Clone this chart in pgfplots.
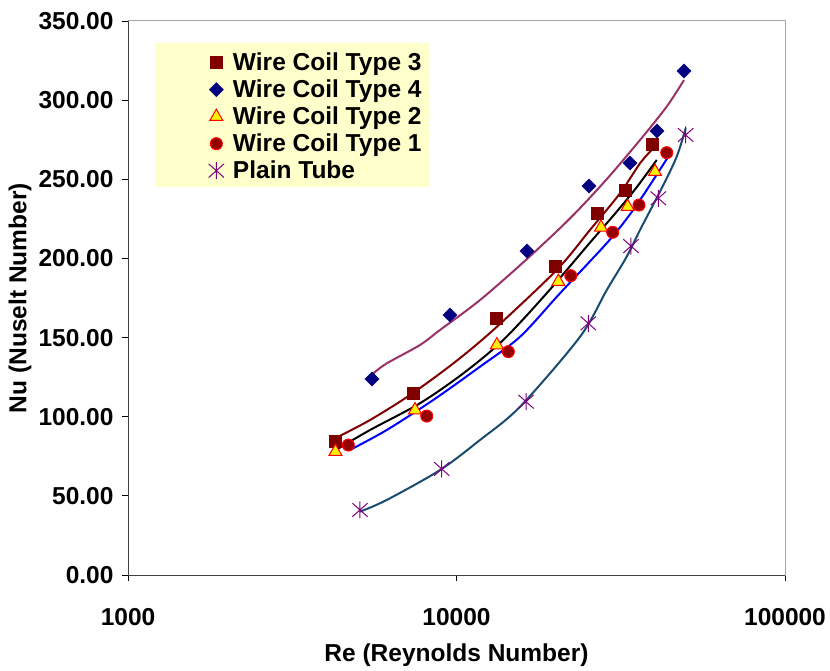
\documentclass[border=0pt]{standalone}
\usepackage{fontspec}
\setmainfont{Liberation Sans}
\usepackage{pgfplots}
\pgfplotsset{compat=1.18}
\definecolor{cthree}{RGB}{128,0,0}
\definecolor{navy}{RGB}{0,0,128}
\definecolor{plum}{RGB}{153,51,102}
\definecolor{teal2}{RGB}{25,75,110}
\definecolor{purp}{RGB}{128,0,128}
\definecolor{legbg}{RGB}{255,255,204}
\definecolor{cone}{RGB}{150,0,0}
\newcommand\chfont{\fontsize{24.5bp}{29bp}\selectfont\bfseries}
\pgfdeclareplotmark{xstar}{%
  \pgfpathmoveto{\pgfqpoint{0pt}{\pgfplotmarksize}}%
  \pgfpathlineto{\pgfqpoint{0pt}{-\pgfplotmarksize}}%
  \pgfpathmoveto{\pgfqpoint{-0.9\pgfplotmarksize}{0.8\pgfplotmarksize}}%
  \pgfpathlineto{\pgfqpoint{0.9\pgfplotmarksize}{-0.8\pgfplotmarksize}}%
  \pgfpathmoveto{\pgfqpoint{-0.9\pgfplotmarksize}{-0.8\pgfplotmarksize}}%
  \pgfpathlineto{\pgfqpoint{0.9\pgfplotmarksize}{0.8\pgfplotmarksize}}%
  \pgfusepathqstroke}
\begin{document}
\begin{tikzpicture}
\path[use as bounding box] (-128bp,-96bp) rectangle (702bp,575bp);
\begin{axis}[
  at={(0,0)}, anchor=south west,
  scale only axis, width=657bp, height=554bp,
  xmode=log, xmin=1000, xmax=100000, ymin=0, ymax=350,
  xtick={1000,10000,100000}, xticklabels={1000,10000,100000},
  ytick={0,50,100,150,200,250,300,350},
  yticklabel={\pgfmathprintnumber[fixed,fixed zerofill,precision=2,assume math mode=true]{\tick}},
  xminorticks=false, yminorticks=false,
  xtick pos=bottom, ytick pos=left,
  tick align=outside, major tick length=6bp,
  tick style={black, line width=0.8bp},
  axis line style={draw=gray!70, line width=1bp},
  tick label style={font=\chfont},
  xticklabel style={yshift=-24bp},
  yticklabel style={xshift=-5bp},
  every axis x label/.style={at={(rel axis cs:0.5,-0.145)}, anchor=center},
  every axis y label/.style={at={(rel axis cs:-0.1644,0.5)}, rotate=90, anchor=center},
  label style={font=\chfont},
  xlabel={Re (Reynolds Number)},
  ylabel={Nu (Nuselt Number)},
  legend style={at={(rel axis cs:0.1225,0.9567)}, anchor=north west,
    fill=none, draw=none, font=\chfont, inner xsep=0bp, inner ysep=4bp,
    column sep=7bp,
    nodes={text height=19bp, text depth=3bp, inner ysep=2.5bp}},
  legend cell align=left,
]
% legend background
\fill[legbg] (rel axis cs:0.0411,0.9603) rectangle (rel axis cs:0.4597,0.7004);
% trend lines
\addplot[plum, line width=2bp, smooth, forget plot] coordinates {
(5580,127.4)(6133,133.7)(7742,145.3)(8908,154.8)(11790,173.7)(16360,199.5)(22160,225.3)(28500,249.5)(36200,274.8)(43630,295.9)(49260,312.7)};
\addplot[cthree, line width=2bp, smooth, forget plot] coordinates {
(4368,87.4)(5454,97.9)(7218,113.7)(9779,133.7)(12942,154.8)(20180,192.7)(25490,218.0)(31450,241.1)(36200,260.1)(39730,269.6)};
\addplot[black, line width=2bp, smooth, forget plot] coordinates {
(4297,79.0)(5454,91.6)(7742,108.5)(10489,127.4)(13883,148.5)(18820,178.0)(25490,210.0)(30730,229.5)(35370,245.0)(40690,262.2)};
\addplot[blue, line width=2bp, smooth, forget plot] coordinates {
(4740,79.0)(6133,91.6)(8500,110.6)(11790,131.6)(15610,150.5)(20660,178.0)(28660,209.6)(33340,226.4)(37930,243.2)(44130,264.3)};
\addplot[teal2, line width=2bp, smooth, forget plot] coordinates {
(5084,40.0)(6133,47.4)(8908,66.3)(11790,85.3)(15610,106.3)(23770,150.5)(28660,180.0)(32970,201.1)(36200,218.0)(42130,244.3)(46810,264.3)(49850,282.2)};
% markers
\addplot[only marks, mark=square*, mark size=6bp, color=cthree, fill=cthree] coordinates {
(4267,84.6)(7373,115.0)(13190,162.4)(19990,194.8)(26900,228.5)(32570,243.2)(39560,272.3)};
\addlegendentry{Wire Coil Type 3}
\addplot[only marks, mark=square*, mark size=5bp, color=navy, fill=navy, mark options={rotate=45}] coordinates {
(5530,123.8)(9550,164.3)(16390,204.7)(25310,245.8)(33730,260.3)(40740,280.5)(49250,318.4)};
\addlegendentry{Wire Coil Type 4}
\addplot[only marks, mark=triangle*, mark size=7.5bp, draw=red, fill=yellow, mark options={line width=1bp}] coordinates {
(4280,77.9)(7477,104.2)(13270,145.3)(20420,185.3)(27540,219.6)(33190,232.7)(40200,254.8)};
\addlegendentry{Wire Coil Type 2}
\addplot[only marks, mark=*, mark size=6bp, draw=red, fill=cone, mark options={line width=1bp}] coordinates {
(4684,82.1)(8116,100.4)(14380,141.1)(22270,189.1)(29890,216.5)(35940,233.7)(43650,266.8)};
\addlegendentry{Wire Coil Type 1}
\addplot[only marks, mark=xstar, mark size=8.5bp, color=purp, mark options={line width=1bp}] coordinates {
(5084,41.1)(9016,67.0)(16280,109.5)(25190,159.0)(33970,207.8)(41160,238.0)(49840,278.0)};
\addlegendentry{Plain Tube}
\draw[black!75, line width=1bp] (rel axis cs:0,1) -- (rel axis cs:0,0) -- (rel axis cs:1,0);
\end{axis}
\end{tikzpicture}
\end{document}
